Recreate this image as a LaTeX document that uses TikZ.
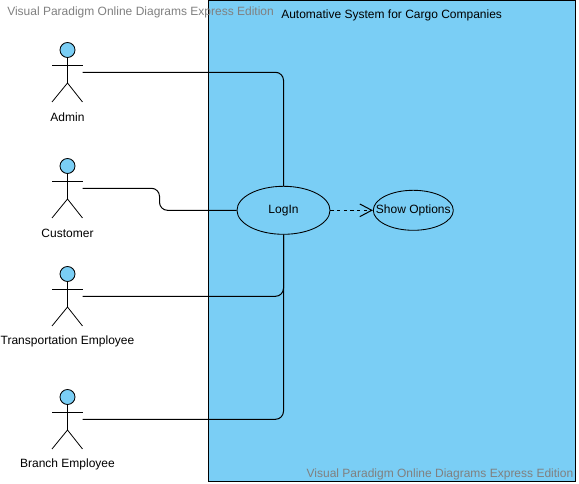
\documentclass[tikz,border=0pt]{standalone}
\usepackage{fontspec}
\setmainfont{Liberation Sans}
\usepackage{xcolor}
\usetikzlibrary{arrows.meta,shapes.geometric}
\definecolor{usecase}{HTML}{7ACEF5}
\definecolor{watermark}{HTML}{808080}
\tikzset{
	wire/.style={draw=black,line width=0.75pt,rounded corners=6pt},
	case/.style={ellipse,draw=black,fill=usecase,line width=0.65pt,inner xsep=-8pt,inner ysep=0pt,text height=6.5pt,text depth=1pt,font=\fontsize{9}{11}\selectfont},
	stamp/.style={text=watermark,inner sep=0pt,font=\fontsize{9}{11}\selectfont},
	caption/.style={inner sep=0pt,font=\fontsize{9}{11}\selectfont},
	actor/.pic={
		\node[circle,draw=black,fill=usecase,line width=0.65pt,minimum size=11.25pt,inner sep=0pt] (-head) at (0,-16) {};
		\draw[line width=0.75pt] (-head.south) -- (0,17);
		\draw[line width=0.75pt] (-15.5,0) -- (15,0);
		\draw[line width=0.6pt] (-15.5,36) -- (0,17) -- (15,36);
		\node[caption] (-label) at (0,#1) {\tikzpictext};
		\coordinate (-hand) at (15,6.3);
	},
}
\begin{document}
\begin{tikzpicture}[x=0.75pt,y=-0.75pt]
	\useasboundingbox (0,0) rectangle (579,484);
	%system
	\draw[fill=usecase,line width=0.75pt] (208.5,0.5) rectangle (575.5,481.5);
	\node[caption,anchor=west] (title) at (281,15.7) {Automative System for Cargo Companies};
	%use cases
	\node[case,minimum width=69.75pt,minimum height=36pt] (login) at (283.5,210.3) {LogIn};
	\node[case,minimum width=60pt,minimum height=30pt] (options) at (413.3,210.3) {Show Options};
	%actors
	\pic[pic text={Admin}] (admin) at (67.5,66) {actor={51}};
	\pic[pic text={Customer}] (customer) at (67.5,182) {actor={51}};
	\pic[pic text={Transportation Employee}] (transport) at (67.5,290) {actor={51}};
	\pic[pic text={Branch Employee}] (branch) at (67.5,413) {actor={51.5}};
	\coordinate (jogtop) at (159.5,188.3);
	\coordinate (jogfoot) at (159.5,210.3);
	%connectors
	\draw[wire] (admin-hand) -| (login);
	\draw[wire] (customer-hand) -- (jogtop) -- (jogfoot) -- (login);
	\draw[wire] (transport-hand) -| (login);
	\draw[wire] (branch-hand) -| (login);
	\draw[line width=0.75pt,dash pattern=on 2.5pt off 2.5pt,-{Straight Barb[length=9pt,width=9.5pt,line width=0.75pt]}] (login) -- (options);
	%watermarks
	\node[stamp,anchor=west] (stampa) at (7,12.5) {Visual Paradigm Online Diagrams Express Edition};
	\node[stamp,anchor=east] (stampb) at (573.5,474.5) {Visual Paradigm Online Diagrams Express Edition};
\end{tikzpicture}
\end{document}
